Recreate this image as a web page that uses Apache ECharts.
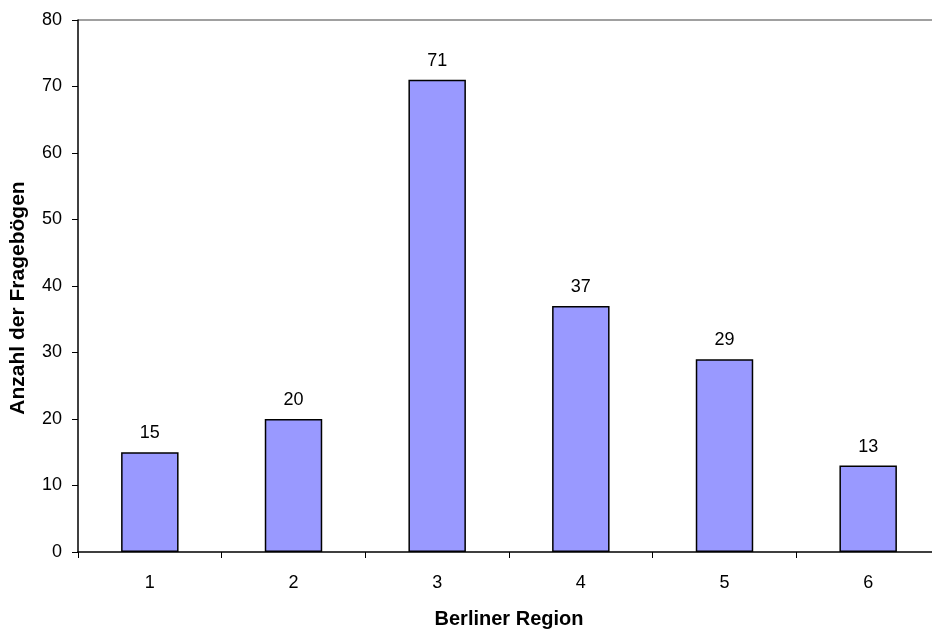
<!DOCTYPE html>
<html>
<head>
<meta charset="utf-8">
<script src="https://cdn.jsdelivr.net/npm/echarts@6/dist/echarts.min.js"></script>
<style>
  html, body { margin: 0; padding: 0; background: #fff; }
  #chart { width: 932px; height: 630px; }
</style>
</head>
<body>
<div id="chart"></div>
<script>
// Berliner Regionen und Anzahl der Fragebögen
var regions = ['1', '2', '3', '4', '5', '6'];
var counts = [15, 20, 71, 37, 29, 13];
var yTicks = { min: 0, max: 80, interval: 10 };

var chart = echarts.init(document.getElementById('chart'));

var option = {
    animation: false,
    backgroundColor: '#fff',
    textStyle: { fontFamily: 'Liberation Sans, Arial, sans-serif' },
    grid: {
        left: 78,
        right: -8,
        top: 20,
        bottom: 78,
        containLabel: false,
        outerBoundsMode: 'none'
    },
    xAxis: {
        type: 'category',
        data: regions,
        name: 'Berliner Region',
        nameLocation: 'middle',
        nameGap: 57,
        nameTextStyle: { fontSize: 20, fontWeight: 'bold', color: '#000' },
        axisLine: { lineStyle: { color: '#000', width: 1.5 } },
        axisTick: { show: true, length: 6, lineStyle: { color: '#000' } },
        axisLabel: { fontSize: 18, color: '#000', margin: 22 },
        splitLine: { show: false }
    },
    yAxis: {
        type: 'value',
        min: yTicks.min,
        max: yTicks.max,
        interval: yTicks.interval,
        name: 'Anzahl der Fragebögen',
        nameLocation: 'middle',
        nameGap: 49,
        nameTextStyle: { fontSize: 21, fontWeight: 'bold', color: '#000', padding: [0, 24, 0, 0] },
        axisLine: { show: true, lineStyle: { color: '#000', width: 1.5 } },
        axisTick: { show: true, length: 6, lineStyle: { color: '#000' } },
        axisLabel: { fontSize: 18, color: '#000', margin: 16 },
        splitLine: { show: false }
    },
    series: [{
        type: 'bar',
        data: counts,
        barWidth: '40%',
        itemStyle: {
            color: '#9999FF',
            borderColor: '#000',
            borderWidth: 1.5
        },
        label: {
            show: true,
            position: 'top',
            distance: 10,
            fontSize: 18,
            color: '#000'
        }
    }],
    graphic: [{
        // grauer oberer Rahmen
        type: 'line',
        shape: { x1: 78, y1: 20, x2: 932, y2: 20 },
        style: { stroke: '#808080', lineWidth: 1.5 }
    }]
};

chart.setOption(option);
</script>
</body>
</html>
